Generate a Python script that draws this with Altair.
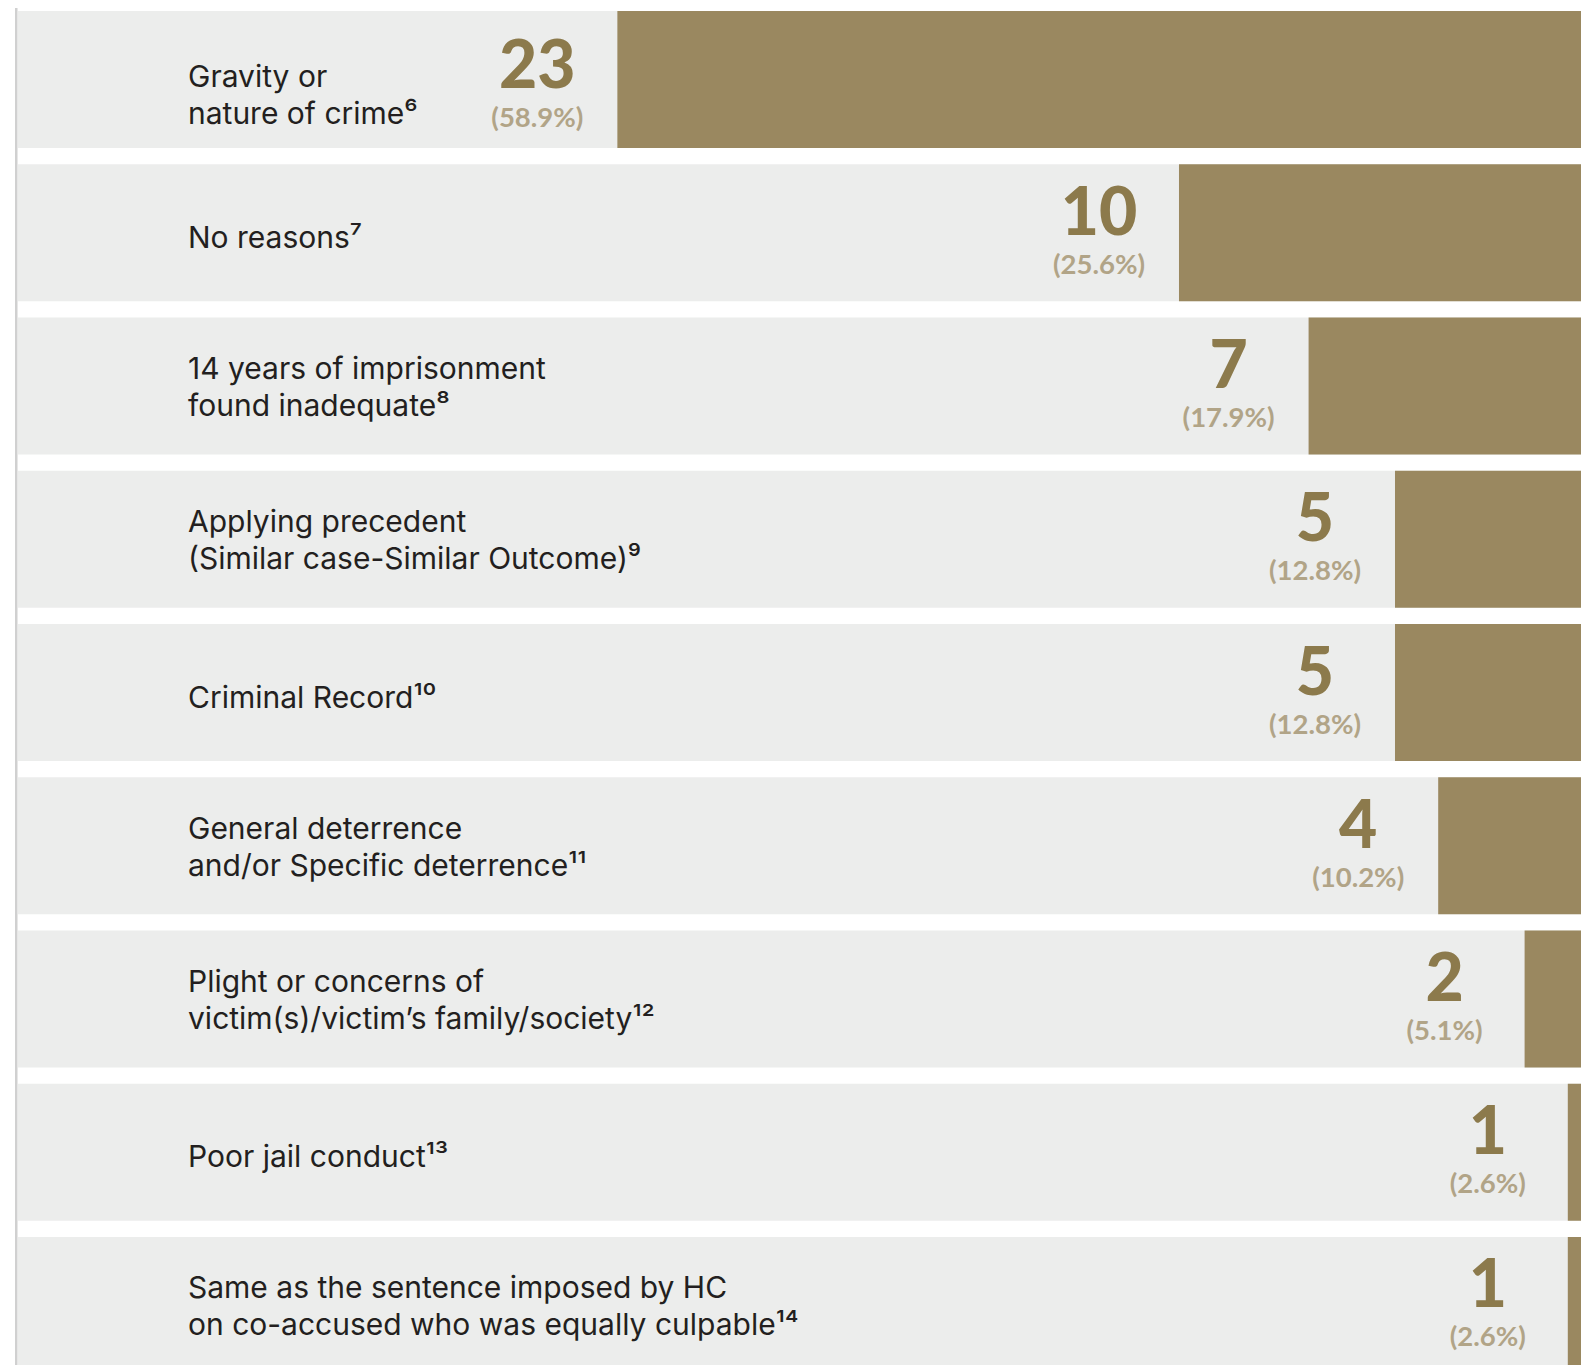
import altair as alt
import pandas as pd

label_lines = [
    ["Gravity or", "nature of crime⁶"],
    ["No reasons⁷"],
    ["14 years of imprisonment", "found inadequate⁸"],
    ["Applying precedent", "(Similar case-Similar Outcome)⁹"],
    ["Criminal Record¹⁰"],
    ["General deterrence", "and/or Specific deterrence¹¹"],
    ["Plight or concerns of", "victim(s)/victim’s family/society¹²"],
    ["Poor jail conduct¹³"],
    ["Same as the sentence imposed by HC", "on co-accused who was equally culpable¹⁴"],
]
counts = [23, 10, 7, 5, 5, 4, 2, 1, 1]
pct_labels = ["(58.9%)", "(25.6%)", "(17.9%)", "(12.8%)", "(12.8%)",
              "(10.2%)", "(5.1%)", "(2.6%)", "(2.6%)"]

cats = [" ".join(lines) for lines in label_lines]

W = 1565
H = 1363

df = pd.DataFrame({"cat": cats, "count": counts, "pct": pct_labels,
                   "row": list(range(len(cats)))})
rows = []
for r, (cat, lines) in enumerate(zip(cats, label_lines)):
    for i, line in enumerate(lines):
        rows.append({"cat": cat, "line": line, "idx": i, "n": len(lines), "row": r})
lines_df = pd.DataFrame(rows)

BAR = "#9A8860"
BAND = "#ECEDEC"
NUM = "#8C7A4C"
PCT = "#B1A487"
TXT = "#231F20"

yenc = alt.Y("cat:N", sort=cats, axis=None,
             scale=alt.Scale(paddingInner=0.106, paddingOuter=0))
xscale = alt.Scale(domain=[0, 36.92], range=[1595, 0])
xenc = alt.X("count:Q", scale=xscale, axis=None)

base = alt.Chart(df)

bg = base.mark_rect(color=BAND).encode(
    y=yenc, x=alt.value(2), x2=alt.value(W)
)

bars = base.mark_bar(color=BAR).encode(
    y=yenc, x=xenc, x2=alt.datum(0)
)

nstyle = dict(font="Lato", fontWeight=900, fontSize=66, color=NUM,
              align="center", baseline="middle", dx=-80)
pstyle = dict(font="Lato", fontWeight=700, fontSize=27.5, color=PCT,
              align="center", baseline="middle", dx=-80)

nums_top = base.transform_filter("datum.row == 0").mark_text(dy=-12, **nstyle).encode(
    y=yenc, x=xenc, text="count:Q")
nums = base.transform_filter("datum.row > 0").mark_text(dy=-18, **nstyle).encode(
    y=yenc, x=xenc, text="count:Q")
pcts_top = base.transform_filter("datum.row == 0").mark_text(dy=39, **pstyle).encode(
    y=yenc, x=xenc, text="pct:N")
pcts = base.transform_filter("datum.row > 0").mark_text(dy=33, **pstyle).encode(
    y=yenc, x=xenc, text="pct:N")

lbase = alt.Chart(lines_df)
tstyle = dict(font="Inter", fontSize=30, color=TXT, align="left", baseline="middle")


def text_layer(cond, dy):
    return lbase.transform_filter(cond).mark_text(dy=dy, **tstyle).encode(
        y=yenc, x=alt.value(172), text="line:N")


single = text_layer("datum.n == 1", 6)
first = text_layer("datum.n == 2 && datum.idx == 0 && datum.row > 0", -16)
second = text_layer("datum.n == 2 && datum.idx == 1 && datum.row > 0", 21)
first_top = text_layer("datum.n == 2 && datum.idx == 0 && datum.row == 0", -2)
second_top = text_layer("datum.n == 2 && datum.idx == 1 && datum.row == 0", 35)

edge = alt.Chart(pd.DataFrame({"a": [0]})).mark_rule(
    color="#D0D0D0", strokeWidth=2.5
).encode(x=alt.value(0.25), y=alt.value(-11), y2=alt.value(H + 20))

chart = alt.layer(
    bg, bars, nums_top, nums, pcts_top, pcts,
    single, first, second, first_top, second_top, edge
).properties(
    width=W, height=H,
    autosize=alt.AutoSizeParams(type="none"),
    padding={"left": 8, "top": 3, "right": 0, "bottom": 0},
).configure_view(stroke=None)

chart.save("out.html", embed_options={"renderer": "svg", "actions": False})
